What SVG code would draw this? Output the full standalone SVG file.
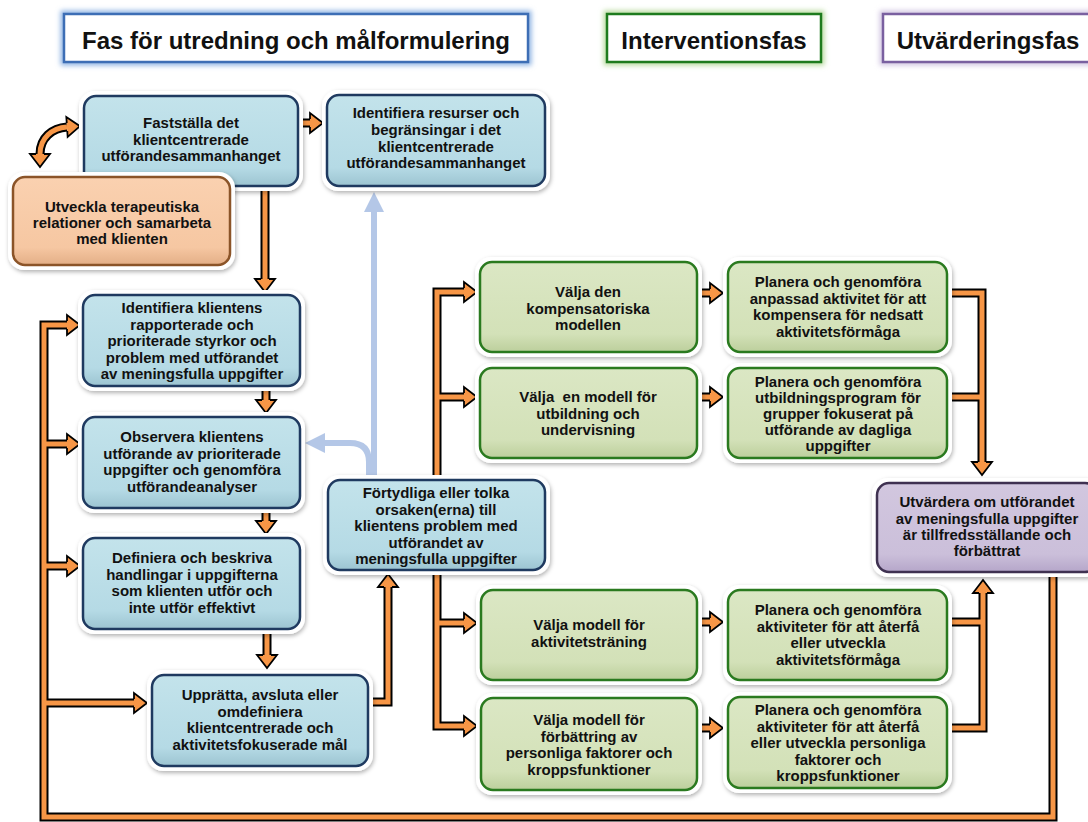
<svg xmlns="http://www.w3.org/2000/svg" width="1088" height="822" viewBox="0 0 1088 822">
<defs>
<style>
.t{font-family:"Liberation Sans",Arial,sans-serif;font-weight:bold;font-size:15px;fill:#111;text-anchor:middle}
.ht{font-family:"Liberation Sans",Arial,sans-serif;font-weight:bold;font-size:24px;fill:#111;text-anchor:middle}
.frame{fill:#fff;filter:url(#sh)}
.box{stroke-width:2.5}
.blue .box{fill:url(#gb);stroke:#1f3a60}
.green .box{fill:url(#gg);stroke:#2a7a1f}
.orange .box{fill:url(#go);stroke:#8b5428}
.purple .box{fill:url(#gp);stroke:#3f3151}
.ob{fill:none;stroke:#000;stroke-width:9;stroke-linejoin:miter}
.of{fill:none;stroke:#f79646;stroke-width:5;stroke-linejoin:miter}
.lb{fill:none;stroke:#b4c7e7;stroke-width:6;marker-end:url(#lh)}
.hb{fill:#fff;stroke-width:2.5}
</style>
<filter id="sh" x="-10%" y="-10%" width="120%" height="130%">
<feDropShadow dx="1" dy="2" stdDeviation="2" flood-color="#000" flood-opacity="0.3"/>
</filter>
<filter id="glow" x="-10%" y="-30%" width="120%" height="160%">
<feGaussianBlur stdDeviation="2.5"/>
</filter>
<linearGradient id="gb" x1="0" y1="0" x2="0" y2="1">
<stop offset="0" stop-color="#c3e3eb"/><stop offset="0.8" stop-color="#b5dae5"/><stop offset="1" stop-color="#9cc4d1"/>
</linearGradient>
<linearGradient id="gg" x1="0" y1="0" x2="0" y2="1">
<stop offset="0" stop-color="#dbe7c4"/><stop offset="0.8" stop-color="#d3e1b8"/><stop offset="1" stop-color="#bccf9c"/>
</linearGradient>
<linearGradient id="go" x1="0" y1="0" x2="0" y2="1">
<stop offset="0" stop-color="#fad1b0"/><stop offset="0.8" stop-color="#f6c7a2"/><stop offset="1" stop-color="#e3ae86"/>
</linearGradient>
<linearGradient id="gp" x1="0" y1="0" x2="0" y2="1">
<stop offset="0" stop-color="#d2c7df"/><stop offset="0.8" stop-color="#cbbfda"/><stop offset="1" stop-color="#b5a6c9"/>
</linearGradient>
<marker id="ah" markerUnits="userSpaceOnUse" markerWidth="17" markerHeight="24" viewBox="-2 -12 17 24" refX="0" refY="0" orient="auto-start-reverse" overflow="visible">
<path d="M0,-10 L13,0 L0,10 Z" fill="#f79646"/>
<path d="M0,-4 L0,-10 L13,0 L0,10 L0,4" fill="none" stroke="#000" stroke-width="1.8"/>
</marker>
<marker id="lh" markerUnits="userSpaceOnUse" markerWidth="22" markerHeight="22" viewBox="0 -11 22 22" refX="0" refY="0" orient="auto" overflow="visible">
<path d="M0,-10 L20,0 L0,10 Z" fill="#b4c7e7"/>
</marker>
</defs>
<rect width="1088" height="822" fill="#fff"/>

<g id="headers">
<g id="h1">
<rect x="64" y="14" width="464" height="48" fill="none" stroke="#8fb4e3" stroke-width="7" filter="url(#glow)"/>
<rect class="hb" x="64" y="14" width="464" height="48" stroke="#3d6eb5"/>
<text class="ht" x="296" y="49">Fas för utredning och målformulering</text>
</g>
<g id="h2">
<rect x="607" y="14" width="214" height="48" fill="none" stroke="#b9dca0" stroke-width="7" filter="url(#glow)"/>
<rect class="hb" x="607" y="14" width="214" height="48" stroke="#1e7b1e"/>
<text class="ht" x="714" y="49">Interventionsfas</text>
</g>
<g id="h3">
<rect x="883" y="14" width="215" height="48" fill="none" stroke="#d2c6e2" stroke-width="7" filter="url(#glow)"/>
<rect class="hb" x="883" y="14" width="215" height="48" stroke="#7a60a0"/>
<text class="ht" x="988" y="49">Utvärderingsfas</text>
</g>
</g>

<g id="connectors">
<path class="lb" d="M374 476 V212"/>
<path class="lb" d="M369 476 V462 Q369 443 350 443 H325"/>
<g id="outlines">
<path class="ob" d="M302 123 H310"/>
<path class="ob" d="M40 154 C40 138 52 128 67 127"/>
<path class="ob" d="M265 187 V279"/>
<path class="ob" d="M266 386 V400"/>
<path class="ob" d="M266 508 V521"/>
<path class="ob" d="M267 630 V655"/>
<path class="ob" d="M368 702 H388 V587"/>
<path class="ob" d="M464 292 H437 V726 H464"/>
<path class="ob" d="M437 397 H464"/>
<path class="ob" d="M437 623 H464"/>
<path class="ob" d="M700 293 H710"/>
<path class="ob" d="M700 397 H710"/>
<path class="ob" d="M700 622 H710"/>
<path class="ob" d="M700 728 H710"/>
<path class="ob" d="M947 293 H982 V462"/>
<path class="ob" d="M947 397 H982"/>
<path class="ob" d="M947 728 H983 V593"/>
<path class="ob" d="M947 622 H983"/>
<path class="ob" d="M1053 572 V817 H44 V325 H67"/>
<path class="ob" d="M44 444 H67"/>
<path class="ob" d="M44 566 H67"/>
<path class="ob" d="M44 703 H134"/>
</g>
<g id="fills">
<path class="of" d="M302 123 H310" marker-end="url(#ah)"/>
<path class="of" d="M40 154 C40 138 52 128 67 127" marker-start="url(#ah)" marker-end="url(#ah)"/>
<path class="of" d="M265 187 V279" marker-end="url(#ah)"/>
<path class="of" d="M266 386 V400" marker-end="url(#ah)"/>
<path class="of" d="M266 508 V521" marker-end="url(#ah)"/>
<path class="of" d="M267 630 V655" marker-end="url(#ah)"/>
<path class="of" d="M368 702 H388 V587" marker-end="url(#ah)"/>
<path class="of" d="M464 292 H437 V726 H464" marker-start="url(#ah)" marker-end="url(#ah)"/>
<path class="of" d="M437 397 H464" marker-end="url(#ah)"/>
<path class="of" d="M437 623 H464" marker-end="url(#ah)"/>
<path class="of" d="M700 293 H710" marker-end="url(#ah)"/>
<path class="of" d="M700 397 H710" marker-end="url(#ah)"/>
<path class="of" d="M700 622 H710" marker-end="url(#ah)"/>
<path class="of" d="M700 728 H710" marker-end="url(#ah)"/>
<path class="of" d="M947 293 H982 V462" marker-end="url(#ah)"/>
<path class="of" d="M947 397 H982"/>
<path class="of" d="M947 728 H983 V593" marker-end="url(#ah)"/>
<path class="of" d="M947 622 H983"/>
<path class="of" d="M1053 572 V817 H44 V325 H67" marker-end="url(#ah)"/>
<path class="of" d="M44 444 H67" marker-end="url(#ah)"/>
<path class="of" d="M44 566 H67" marker-end="url(#ah)"/>
<path class="of" d="M44 703 H134" marker-end="url(#ah)"/>
</g>
</g>

<g id="n1" class="blue">
<rect class="frame" x="79" y="91" width="224" height="100" rx="16"/>
<rect class="box" x="84" y="96" width="214" height="90" rx="12"/>
<text class="t"><tspan x="191" y="128">Fastställa det</tspan><tspan x="191" y="145">klientcentrerade</tspan><tspan x="191" y="161">utförandesammanhanget</tspan></text>
</g>
<g id="n2" class="orange">
<rect class="frame" x="8" y="172" width="227" height="98" rx="16"/>
<rect class="box" x="13" y="177" width="217" height="88" rx="12"/>
<text class="t"><tspan x="122" y="212">Utveckla terapeutiska</tspan><tspan x="122" y="228">relationer och samarbeta</tspan><tspan x="122" y="244">med klienten</tspan></text>
</g>
<g id="n3" class="blue">
<rect class="frame" x="322" y="90" width="228" height="101" rx="16"/>
<rect class="box" x="327" y="95" width="218" height="91" rx="12"/>
<text class="t"><tspan x="436" y="118">Identifiera resurser och</tspan><tspan x="436" y="135">begränsingar i det</tspan><tspan x="436" y="152">klientcentrerade</tspan><tspan x="436" y="168">utförandesammanhanget</tspan></text>
</g>
<g id="n4" class="blue">
<rect class="frame" x="78" y="290" width="227" height="101" rx="16"/>
<rect class="box" x="83" y="295" width="217" height="91" rx="12"/>
<text class="t"><tspan x="192" y="313">Identifiera klientens</tspan><tspan x="192" y="329.5">rapporterade och</tspan><tspan x="192" y="346">prioriterade styrkor och</tspan><tspan x="192" y="362.5">problem med utförandet</tspan><tspan x="192" y="379">av meningsfulla uppgifter</tspan></text>
</g>
<g id="n5" class="blue">
<rect class="frame" x="78" y="412" width="227" height="101" rx="16"/>
<rect class="box" x="83" y="417" width="217" height="91" rx="12"/>
<text class="t"><tspan x="192" y="442">Observera klientens</tspan><tspan x="192" y="458.5">utförande av prioriterade</tspan><tspan x="192" y="475">uppgifter och genomföra</tspan><tspan x="192" y="491.5">utförandeanalyser</tspan></text>
</g>
<g id="n6" class="blue">
<rect class="frame" x="78" y="533" width="227" height="101" rx="16"/>
<rect class="box" x="83" y="538" width="217" height="91" rx="12"/>
<text class="t"><tspan x="192" y="563">Definiera och beskriva</tspan><tspan x="192" y="579.5">handlingar i uppgifterna</tspan><tspan x="192" y="596">som klienten utför och</tspan><tspan x="192" y="612.5">inte utför effektivt</tspan></text>
</g>
<g id="n7" class="blue">
<rect class="frame" x="147" y="670" width="226" height="101" rx="16"/>
<rect class="box" x="152" y="675" width="216" height="91" rx="12"/>
<text class="t"><tspan x="260" y="700">Upprätta, avsluta eller</tspan><tspan x="260" y="716.5">omdefiniera</tspan><tspan x="260" y="733">klientcentrerade och</tspan><tspan x="260" y="749.5">aktivitetsfokuserade mål</tspan></text>
</g>
<g id="n8" class="blue">
<rect class="frame" x="323" y="475" width="227" height="100" rx="16"/>
<rect class="box" x="328" y="480" width="217" height="90" rx="12"/>
<text class="t"><tspan x="436" y="498">Förtydliga eller tolka</tspan><tspan x="436" y="514.5">orsaken(erna) till</tspan><tspan x="436" y="531">klientens problem med</tspan><tspan x="436" y="547.5">utförandet av</tspan><tspan x="436" y="564">meningsfulla uppgifter</tspan></text>
</g>
<g id="n9" class="green">
<rect class="frame" x="475" y="257" width="227" height="100" rx="16"/>
<rect class="box" x="480" y="262" width="217" height="90" rx="12"/>
<text class="t"><tspan x="588" y="297">Välja den</tspan><tspan x="588" y="313.5">kompensatoriska</tspan><tspan x="588" y="330">modellen</tspan></text>
</g>
<g id="n10" class="green">
<rect class="frame" x="475" y="363" width="227" height="100" rx="16"/>
<rect class="box" x="480" y="368" width="217" height="90" rx="12"/>
<text class="t" xml:space="preserve"><tspan x="588" y="402">Välja  en modell för</tspan><tspan x="588" y="418.5">utbildning och</tspan><tspan x="588" y="435">undervisning</tspan></text>
</g>
<g id="n11" class="green">
<rect class="frame" x="723" y="257" width="229" height="100" rx="16"/>
<rect class="box" x="728" y="262" width="219" height="90" rx="12"/>
<text class="t"><tspan x="838" y="287">Planera och genomföra</tspan><tspan x="838" y="303.5">anpassad aktivitet för att</tspan><tspan x="838" y="320">kompensera för nedsatt</tspan><tspan x="838" y="336.5">aktivitetsförmåga</tspan></text>
</g>
<g id="n12" class="green">
<rect class="frame" x="723" y="363" width="229" height="100" rx="16"/>
<rect class="box" x="728" y="368" width="219" height="90" rx="12"/>
<text class="t"><tspan x="838" y="387">Planera och genomföra</tspan><tspan x="838" y="403">utbildningsprogram för</tspan><tspan x="838" y="419">grupper fokuserat på</tspan><tspan x="838" y="435">utförande av dagliga</tspan><tspan x="838" y="451">uppgifter</tspan></text>
</g>
<g id="n13" class="purple">
<rect class="frame" x="872" y="478" width="230" height="99" rx="16"/>
<rect class="box" x="877" y="483" width="220" height="89" rx="12"/>
<text class="t"><tspan x="987" y="507">Utvärdera om utförandet</tspan><tspan x="987" y="523.5">av meningsfulla uppgifter</tspan><tspan x="987" y="540">är tillfredsställande och</tspan><tspan x="987" y="556">förbättrat</tspan></text>
</g>
<g id="n14" class="green">
<rect class="frame" x="476" y="585" width="226" height="100" rx="16"/>
<rect class="box" x="481" y="590" width="216" height="90" rx="12"/>
<text class="t"><tspan x="589" y="630">Välja modell för</tspan><tspan x="589" y="647">aktivitetsträning</tspan></text>
</g>
<g id="n15" class="green">
<rect class="frame" x="476" y="693" width="226" height="102" rx="16"/>
<rect class="box" x="481" y="698" width="216" height="92" rx="12"/>
<text class="t"><tspan x="589" y="725">Välja modell för</tspan><tspan x="589" y="742">förbättring av</tspan><tspan x="589" y="758">personliga faktorer och</tspan><tspan x="589" y="775">kroppsfunktioner</tspan></text>
</g>
<g id="n16" class="green">
<rect class="frame" x="723" y="585" width="229" height="100" rx="16"/>
<rect class="box" x="728" y="590" width="219" height="90" rx="12"/>
<text class="t"><tspan x="838" y="615">Planera och genomföra</tspan><tspan x="838" y="632">aktiviteter för att återfå</tspan><tspan x="838" y="648">eller utveckla</tspan><tspan x="838" y="665">aktivitetsförmåga</tspan></text>
</g>
<g id="n17" class="green">
<rect class="frame" x="723" y="692" width="229" height="101" rx="16"/>
<rect class="box" x="728" y="697" width="219" height="91" rx="12"/>
<text class="t"><tspan x="838" y="715">Planera och genomföra</tspan><tspan x="838" y="732">aktiviteter för att återfå</tspan><tspan x="838" y="748">eller utveckla personliga</tspan><tspan x="838" y="765">faktorer och</tspan><tspan x="838" y="781">kroppsfunktioner</tspan></text>
</g>
</svg>
